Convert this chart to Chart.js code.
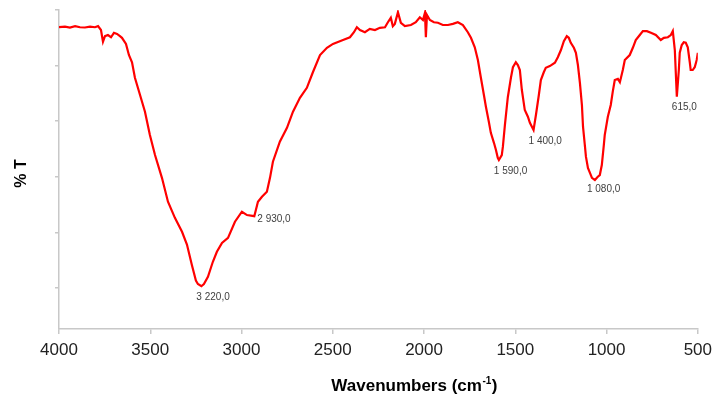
<!DOCTYPE html>
<html>
<head>
<meta charset="utf-8">
<script src="https://cdn.jsdelivr.net/npm/chart.js@4/dist/chart.umd.min.js"></script>
<style>
  html, body { margin: 0; padding: 0; background: #fff; }
  #wrap { position: relative; width: 718px; height: 401px; }
</style>
</head>
<body>
<div id="wrap"><canvas id="c" width="718" height="401"></canvas></div>
<script>
// Wavenumbers (cm-1) and transmittance (arbitrary %T units)
const wavenumbers = [4000,3967,3940,3912,3885,3858,3830,3803,3786,3770,3759,3748,3732,3715,3699,3682,3666,3655,3633,3617,3600,3584,3556,3529,3502,3474,3436,3403,3365,3326,3299,3272,3250,3239,3220,3206,3184,3157,3135,3107,3074,3036,2998,2970,2930,2910,2888,2861,2844,2828,2790,2751,2718,2680,2642,2609,2570,2532,2499,2444,2406,2384,2368,2351,2324,2297,2269,2242,2214,2198,2182,2171,2160,2143,2127,2105,2072,2045,2023,2006,1995,1990,1984,1968,1946,1924,1897,1869,1842,1815,1787,1760,1743,1722,1705,1689,1672,1661,1645,1634,1617,1606,1596,1590,1574,1568,1557,1541,1524,1513,1497,1486,1475,1464,1448,1431,1420,1400,1387,1371,1360,1344,1333,1311,1283,1267,1250,1234,1218,1207,1196,1179,1168,1157,1146,1135,1129,1119,1113,1102,1091,1080,1064,1048,1037,1026,1015,1010,993,977,966,955,938,927,911,900,873,856,840,818,801,779,757,730,703,686,664,648,637,626,615,604,599,588,577,566,555,544,539,528,517,506,500];
const transmittance = [96.9,97.0,96.85,97.1,96.9,96.85,97.0,96.9,97.1,96.4,94.3,95.3,95.5,95.1,95.9,95.7,95.3,95.0,93.9,91.9,90.6,87.8,84.7,81.7,77.5,73.9,69.8,65.5,62.6,60.1,57.8,54.1,51.3,50.7,50.3,50.7,52.0,54.7,56.5,58.1,59.0,61.9,63.7,63.1,62.9,65.5,66.4,67.3,69.8,72.7,76.3,78.8,81.7,84.2,86.0,88.8,91.9,93.2,93.9,94.6,95.1,96.0,96.9,96.4,96.0,96.6,96.4,96.8,96.9,97.8,98.6,97.1,97.5,99.6,97.7,97.1,97.3,97.8,98.7,98.2,99.5,95.1,99.1,98.2,97.8,97.7,97.3,97.3,97.5,97.8,97.3,96.0,95.0,93.3,91.0,87.9,84.7,82.6,79.9,77.9,76.1,74.8,73.4,73.0,73.9,75.4,79.3,84.3,87.8,89.7,90.6,90.1,89.2,85.6,82.0,80.8,79.7,78.4,81.1,84.7,87.4,88.8,89.6,89.9,90.5,91.5,92.8,94.4,95.3,95.0,94.1,93.2,92.3,90.1,86.9,82.9,79.0,75.7,73.6,71.6,70.7,69.8,69.4,70.0,70.3,72.1,75.7,77.5,80.8,82.9,85.3,87.4,87.6,87.0,89.2,91.0,91.9,93.2,94.6,95.5,96.2,96.2,95.9,95.5,94.6,95.0,95.1,95.5,96.2,92.8,84.4,89.2,92.3,93.7,94.2,94.1,93.3,90.6,89.2,89.2,89.7,91.0,92.3];

// Annotated peaks
const peakWaves = [3220, 2930, 1590, 1400, 1080, 615];
const peakSides = ['below', 'right', 'below', 'below', 'below', 'below'];

// Axis ticks
const xTicks = [4000, 3500, 3000, 2500, 2000, 1500, 1000, 500];
const yTicks = [50, 60, 70, 80, 90, 100];

const FONT = '"Liberation Sans", Arial, sans-serif';

function fmtPeak(v) {
  const s = String(Math.round(v));
  const t = s.length > 3 ? s.slice(0, s.length - 3) + ' ' + s.slice(-3) : s;
  return t + ',0';
}

const points = wavenumbers.map((w, i) => ({ x: w, y: transmittance[i] }));

const peakLabels = {
  id: 'peakLabels',
  afterDatasetsDraw(chart) {
    const meta = chart.getDatasetMeta(0);
    const ctx = chart.ctx;
    ctx.save();
    ctx.font = '10px ' + FONT;
    ctx.fillStyle = '#404040';
    ctx.textAlign = 'left';
    peakWaves.forEach((w, k) => {
      const idx = wavenumbers.indexOf(w);
      if (idx < 0) return;
      const el = meta.data[idx];
      if (peakSides[k] === 'right') {
        ctx.textBaseline = 'middle';
        ctx.fillText(fmtPeak(w), el.x + 3, el.y + 3);
      } else {
        ctx.textBaseline = 'top';
        ctx.fillText(fmtPeak(w), el.x - 5, el.y + 6);
      }
    });
    ctx.restore();
  }
};

const axisTitles = {
  id: 'axisTitles',
  afterDraw(chart) {
    const ctx = chart.ctx;
    const xs = chart.scales.x;
    const ys = chart.scales.y;
    ctx.save();
    ctx.fillStyle = '#000';
    ctx.textBaseline = 'middle';
    ctx.textAlign = 'left';
    // x title with a real superscript
    const main = 'Wavenumbers (cm';
    const sup = '-1';
    const tail = ')';
    const bigFont = 'bold 17px ' + FONT;
    const smallFont = 'bold 10px ' + FONT;
    ctx.font = bigFont;
    const wMain = ctx.measureText(main).width;
    const wTail = ctx.measureText(tail).width;
    ctx.font = smallFont;
    const wSup = ctx.measureText(sup).width;
    const total = wMain + wSup + wTail + 1;
    let x0 = (xs.left + xs.right) / 2 + 36 - total / 2;
    const yT = 386;
    ctx.font = bigFont;
    ctx.fillText(main, x0, yT);
    ctx.font = smallFont;
    ctx.fillText(sup, x0 + wMain + 0.5, yT - 5);
    ctx.font = bigFont;
    ctx.fillText(tail, x0 + wMain + wSup + 1, yT);
    // y title
    ctx.textAlign = 'center';
    ctx.font = 'bold 16px ' + FONT;
    ctx.translate(22, (ys.top + ys.bottom) / 2 + 4);
    ctx.rotate(-Math.PI / 2);
    ctx.fillText('% T', 0, 0);
    ctx.restore();
  }
};

new Chart(document.getElementById('c'), {
  type: 'line',
  data: {
    datasets: [{
      data: points,
      borderColor: '#ff0000',
      borderWidth: 2.2,
      pointRadius: 0,
      tension: 0,
      fill: false
    }]
  },
  options: {
    responsive: false,
    animation: false,
    layout: { padding: { top: 10, right: 20, left: 0, bottom: 0 } },
    plugins: { legend: { display: false }, tooltip: { enabled: false } },
    scales: {
      x: {
        type: 'linear',
        reverse: true,
        min: 500,
        max: 4000,
        afterBuildTicks(s) { s.ticks = xTicks.map(v => ({ value: v })); },
        afterFit(s) { s.height = 72; },
        ticks: {
          color: '#222',
          font: { size: 17, family: FONT },
          padding: 6,
          maxRotation: 0,
          callback: v => String(v)
        },
        grid: { drawOnChartArea: false, drawTicks: true, tickLength: 5, color: '#c8c8c8', lineWidth: 1.5 },
        border: { display: true, color: '#c8c8c8', width: 1.5 }
      },
      y: {
        min: 42.6,
        max: 100,
        afterBuildTicks(s) { s.ticks = yTicks.map(v => ({ value: v })); },
        afterFit(s) { s.width = 59; },
        ticks: { display: false },
        grid: { drawOnChartArea: false, drawTicks: true, tickLength: 4, color: '#c8c8c8', lineWidth: 1.5 },
        border: { display: true, color: '#c8c8c8', width: 1.5 }
      }
    }
  },
  plugins: [peakLabels, axisTitles]
});
</script>
</body>
</html>
